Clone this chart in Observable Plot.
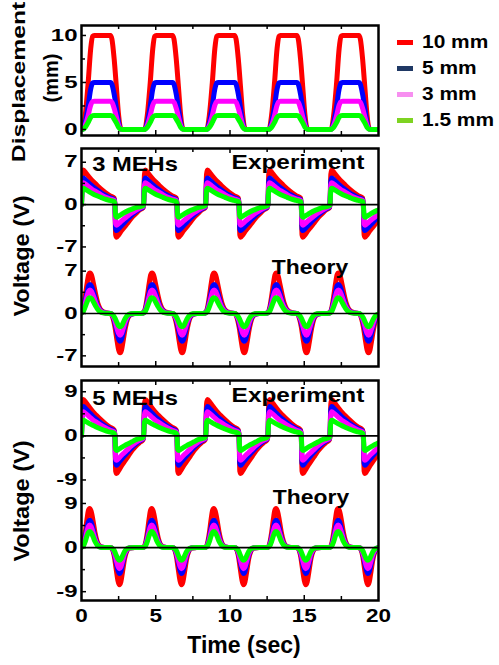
<!DOCTYPE html>
<html><head><meta charset="utf-8">
<script src="https://cdn.jsdelivr.net/npm/d3@7"></script>
<script src="https://cdn.jsdelivr.net/npm/@observablehq/plot@0.6"></script>
<style>
body{margin:0;background:#fff;}
#wrap{position:relative;width:499px;height:665px;overflow:hidden;font-family:"Liberation Sans",Arial,Helvetica,sans-serif;font-weight:bold;color:#000;}
.lab{position:absolute;white-space:nowrap;line-height:1;}
.pl{position:absolute;left:0;}
.sw{position:absolute;width:16px;height:5px;}
</style></head><body><div id="wrap"></div>
<script>
// ---------- data ----------
const seriesNames = ["10 mm", "5 mm", "3 mm", "1.5 mm"];
const lineColors = ["#ff0000", "#0000ff", "#ff00ff", "#00ff00"];
const legendColors = ["#ff0000", "#1f3864", "#f78ff0", "#7ed321"];
const cycleStart = [0, 4.18, 8.36, 12.55, 16.73];          // sec
const xMajor = [5, 10, 15];
const xMinor = [2.5, 7.5, 12.5, 17.5];
const xLabels = [0, 5, 10, 15, 20];

// displacement (mm), one cycle
const dispTau = [0, 0.1, 0.25, 0.45, 0.62, 0.75, 0.85, 1.95, 2.05, 2.2, 2.35, 2.5, 2.62, 2.75, 4.1];
const disp10 = [0, 0.1, 1.5, 5.0, 8.6, 9.9, 10, 10, 9.6, 7.5, 4.5, 1.5, 0.2, 0, 0];
const disp5  = [0, 0.05, 0.75, 2.5, 4.3, 4.95, 5, 5, 4.8, 3.75, 2.25, 0.75, 0.1, 0, 0];
const disp3  = [0, 0.03, 0.45, 1.5, 2.6, 2.97, 3, 3, 2.9, 2.25, 1.35, 0.45, 0.06, 0, 0];
const disp15 = [0, 0.02, 0.22, 0.75, 1.3, 1.48, 1.5, 1.5, 1.45, 1.1, 0.7, 0.22, 0.03, 0, 0];

// experiment voltage (V), one cycle
const expTau = [0, 0.06, 0.12, 0.3, 0.5, 0.75, 1.0, 1.3, 1.6, 1.9, 2.2, 2.25, 2.3, 2.36, 2.5, 2.7, 2.9, 3.15, 3.4, 3.65, 3.9, 4.15];
const exp3_10 = [0, 5.0, 5.7, 5.2, 4.6, 3.9, 3.3, 2.6, 2.0, 1.5, 1.1, 0, -5.0, -5.4, -5.0, -4.3, -3.7, -2.9, -2.1, -1.5, -0.9, -0.5];
const exp3_5  = [0, 3.9, 4.4, 4.0, 3.55, 3.0, 2.55, 2.0, 1.55, 1.15, 0.85, 0, -4.0, -4.3, -4.0, -3.45, -2.95, -2.3, -1.7, -1.2, -0.75, -0.4];
const exp3_3  = [0, 3.2, 3.6, 3.3, 2.9, 2.45, 2.1, 1.65, 1.25, 0.95, 0.7, 0, -3.2, -3.4, -3.15, -2.7, -2.3, -1.8, -1.35, -0.95, -0.6, -0.3];
const exp3_15 = [0, 2.4, 2.7, 2.45, 2.15, 1.8, 1.5, 1.2, 0.9, 0.7, 0.5, 0, -1.9, -2.1, -1.9, -1.6, -1.3, -1.0, -0.75, -0.5, -0.35, -0.2];
const exp5_10 = [0, 6.5, 7.4, 6.8, 6.0, 5.0, 4.2, 3.3, 2.5, 1.8, 1.2, 0, -7.2, -7.7, -7.1, -6.1, -5.2, -4.1, -3.0, -2.1, -1.4, -0.8];
const exp5_5  = [0, 5.3, 6.0, 5.5, 4.85, 4.05, 3.4, 2.65, 2.0, 1.45, 1.0, 0, -5.6, -6.0, -5.5, -4.75, -4.05, -3.2, -2.35, -1.65, -1.1, -0.6];
const exp5_3  = [0, 4.3, 4.9, 4.5, 4.0, 3.3, 2.8, 2.2, 1.65, 1.2, 0.8, 0, -4.7, -5.0, -4.6, -3.95, -3.4, -2.65, -1.95, -1.35, -0.9, -0.5];
const exp5_15 = [0, 2.8, 3.2, 2.9, 2.55, 2.15, 1.8, 1.4, 1.05, 0.8, 0.55, 0, -2.8, -3.0, -2.75, -2.35, -2.0, -1.6, -1.2, -0.8, -0.55, -0.3];

// theory voltage (V), one cycle
const th3Tau = [0, 0.12, 0.25, 0.38, 0.48, 0.57, 0.68, 0.8, 0.95, 1.1, 1.25, 1.45, 1.7, 1.95, 2.1, 2.25, 2.4, 2.5, 2.6, 2.7, 2.8, 2.95, 3.1, 3.3, 3.6, 4.0];
const th3_10 = [0.2, 0.9, 2.8, 5.0, 6.4, 6.7, 6.3, 5.0, 3.2, 1.7, 0.8, 0.3, 0.1, 0, -0.6, -2.2, -4.6, -6.0, -6.5, -6.0, -4.6, -2.4, -0.9, -0.2, 0, 0];
const th3_5  = [0.15, 0.65, 2.0, 3.6, 4.6, 4.8, 4.5, 3.6, 2.3, 1.2, 0.6, 0.2, 0.05, 0, -0.4, -1.55, -3.25, -4.25, -4.6, -4.25, -3.25, -1.7, -0.65, -0.15, 0, 0];
const th3_3  = [0.1, 0.5, 1.6, 2.9, 3.7, 3.9, 3.65, 2.9, 1.85, 1.0, 0.45, 0.15, 0.05, 0, -0.35, -1.2, -2.55, -3.3, -3.6, -3.3, -2.55, -1.35, -0.5, -0.1, 0, 0];
const th3_15 = [0.1, 0.35, 1.1, 1.95, 2.5, 2.6, 2.45, 1.95, 1.25, 0.65, 0.3, 0.1, 0.03, 0, -0.2, -0.75, -1.55, -2.05, -2.2, -2.05, -1.55, -0.8, -0.3, -0.05, 0, 0];
const th5Tau = [0, 0.12, 0.25, 0.37, 0.47, 0.55, 0.65, 0.77, 0.9, 1.05, 1.2, 1.4, 1.7, 1.95, 2.1, 2.22, 2.33, 2.45, 2.55, 2.65, 2.77, 2.9, 3.05, 3.25, 3.6, 4.0];
const th5_10 = [0.1, 0.8, 3.0, 5.8, 7.6, 8.0, 7.4, 5.6, 3.2, 1.3, 0.4, 0.1, 0, 0, -0.5, -2.0, -4.3, -6.7, -7.6, -7.0, -4.8, -2.3, -0.7, -0.1, 0, 0];
const th5_5  = [0.07, 0.55, 2.1, 4.05, 5.3, 5.6, 5.2, 3.9, 2.25, 0.9, 0.3, 0.05, 0, 0, -0.35, -1.4, -3.0, -4.65, -5.3, -4.9, -3.35, -1.6, -0.5, -0.05, 0, 0];
const th5_3  = [0.05, 0.45, 1.7, 3.35, 4.35, 4.6, 4.25, 3.2, 1.85, 0.75, 0.25, 0.05, 0, 0, -0.3, -1.15, -2.45, -3.8, -4.3, -3.95, -2.7, -1.3, -0.4, -0.05, 0, 0];
const th5_15 = [0.05, 0.3, 1.2, 2.4, 3.1, 3.3, 3.05, 2.3, 1.3, 0.55, 0.15, 0.03, 0, 0, -0.2, -0.7, -1.5, -2.3, -2.6, -2.4, -1.65, -0.8, -0.25, -0.03, 0, 0];

const dispTicks = [0, 5, 10], dispMinor = [2.5, 7.5];
const volt3Ticks = [-7, 0, 7], volt3Minor = [-3.5, 3.5];
const volt5Ticks = [-9, 0, 9], volt5Minor = [-4.5, 4.5];

// ---------- layout ----------
const W = 499, ML = 81, MR = 121;
const FONT = '"Liberation Sans", Arial, Helvetica, sans-serif';
const wrap = document.getElementById("wrap");

function rows(tau, vals, offset) {
  return cycleStart.flatMap(c => tau.map((d, i) => ({t: c + d, v: vals[i] + offset})));
}
function stretchTickLabels(svg) {
  svg.querySelectorAll("g").forEach(g => {
    const texts = g.querySelectorAll(":scope > text");
    if (!texts.length) return;
    const sx = g.getAttribute("text-anchor") === "end" ? 1.5 : 1.25;
    texts.forEach(t => {
      const tr = t.getAttribute("transform");
      if (tr) {
        t.setAttribute("transform", tr + ` scale(${sx},1)`);
      } else {
        const x = +(t.getAttribute("x") || 0), y = t.getAttribute("y");
        const yNum = y && !/em$/.test(y) ? +y : 0;
        t.removeAttribute("x");
        if (y && !/em$/.test(y)) t.removeAttribute("y");
        t.setAttribute("transform", `translate(${x},${yNum}) scale(${sx},1)`);
      }
    });
  });
}
function makePanel(o) {
  const fh = o.height - o.mt - o.mb, fw = W - ML - MR;
  const marks = [];
  for (const L of o.layers) {
    L.series.forEach((vals, i) => {
      marks.push(Plot.line(rows(L.tau, vals, L.offset), {
        x: "t", y: "v", stroke: lineColors[i], strokeWidth: 5,
        curve: "monotone-x", strokeLinejoin: "round", strokeLinecap: "round", clip: true
      }));
    });
  }
  if (o.zeros) marks.push(Plot.ruleY(o.zeros, {y: d => d, stroke: "black", strokeWidth: 1.6}));
  const majors = o.tickSets.flatMap(s => s.major.map(v => ({y: v + s.offset, s: String(v)})));
  const minors = o.tickSets.flatMap(s => s.minor.map(v => v + s.offset));
  marks.push(Plot.tickY(majors, {y: "y", stroke: "black", strokeWidth: 1.5, insetRight: fw - 5}));
  marks.push(Plot.tickY(minors, {y: d => d, stroke: "black", strokeWidth: 1.5, insetRight: fw - 4}));
  marks.push(Plot.tickX(xMajor, {x: d => d, stroke: "black", strokeWidth: 1.5, insetTop: fh - 5}));
  marks.push(Plot.tickX(xMinor, {x: d => d, stroke: "black", strokeWidth: 1.5, insetTop: fh - 4}));
  marks.push(Plot.tickX(xMajor, {x: d => d, stroke: "black", strokeWidth: 1.5, insetBottom: fh - 5}));
  marks.push(Plot.tickX(xMinor, {x: d => d, stroke: "black", strokeWidth: 1.5, insetBottom: fh - 4}));
  marks.push(Plot.text(majors, {y: "y", text: "s", frameAnchor: "left", lineAnchor: "middle", textAnchor: "end", dx: -4,
    fontSize: 16, fontWeight: "bold", fontFamily: FONT, fill: "black"}));
  if (o.xAxis) {
    marks.push(Plot.text(xLabels, {x: d => d, text: d => String(d), frameAnchor: "bottom", lineAnchor: "middle", dy: 16,
      fontSize: 18, fontWeight: "bold", fontFamily: FONT, fill: "black"}));
  }
  marks.push(Plot.frame({stroke: "black", strokeWidth: 2.5}));
  const svg = Plot.plot({
    width: W, height: o.height, marginLeft: ML, marginRight: MR, marginTop: o.mt, marginBottom: o.mb,
    x: {domain: [0, 20], axis: null},
    y: {domain: o.ydom, axis: null},
    style: {fontFamily: FONT, background: "transparent", overflow: "visible"},
    marks
  });
  stretchTickLabels(svg);
  svg.classList.add("pl");
  svg.style.top = o.top + "px";
  wrap.appendChild(svg);
}

const OFF3 = 18, OFF5 = 22.8;

makePanel({top: 0, height: 140, mt: 25, mb: 5, ydom: [-0.64, 11.06],
  layers: [{tau: dispTau, offset: 0, series: [disp10, disp5, disp3, disp15]}],
  tickSets: [{major: dispTicks, minor: dispMinor, offset: 0}]});

makePanel({top: 140, height: 230, mt: 8, mb: 4, ydom: [-8.76, 27.27], zeros: [0, OFF3],
  layers: [
    {tau: expTau, offset: OFF3, series: [exp3_10, exp3_5, exp3_3, exp3_15]},
    {tau: th3Tau, offset: 0, series: [th3_10, th3_5, th3_3, th3_15]}],
  tickSets: [{major: volt3Ticks, minor: volt3Minor, offset: 0}, {major: volt3Ticks, minor: volt3Minor, offset: OFF3}]});

makePanel({top: 372, height: 293, mt: 8, mb: 65, ydom: [-10.8, 34.1], zeros: [0, OFF5], xAxis: true,
  layers: [
    {tau: expTau, offset: OFF5, series: [exp5_10, exp5_5, exp5_3, exp5_15]},
    {tau: th5Tau, offset: 0, series: [th5_10, th5_5, th5_3, th5_15]}],
  tickSets: [{major: volt5Ticks, minor: volt5Minor, offset: 0}, {major: volt5Ticks, minor: volt5Minor, offset: OFF5}]});

// ---------- text labels ----------
function label(text, cx, cy, size, sx, rot) {
  const d = document.createElement("div");
  d.className = "lab";
  d.textContent = text;
  d.style.left = cx + "px";
  d.style.top = cy + "px";
  d.style.fontSize = size + "px";
  d.style.transform = `translate(-50%,-50%) rotate(${rot || 0}deg) scaleX(${sx})`;
  wrap.appendChild(d);
}
label("Displacement", 19, 82, 18, 1.37, -90);
label("(mm)", 51, 78, 20, 1.0, -90);
label("Voltage (V)", 22, 256, 22, 1.07, -90);
label("Voltage (V)", 22, 501, 22, 1.07, -90);
label("3 MEHs", 135, 163, 21, 1.13, 0);
label("Experiment", 297.5, 163, 19.5, 1.25, 0);
label("Theory", 310, 266, 21, 1.09, 0);
label("5 MEHs", 135, 397, 21, 1.13, 0);
label("Experiment", 298, 396, 19.5, 1.25, 0);
label("Theory", 310.5, 496, 21, 1.09, 0);
label("Time (sec)", 244, 645, 23, 1.0, 0);

// legend
const legendY = [42, 68, 94, 120];
seriesNames.forEach((name, i) => {
  const s = document.createElement("div");
  s.className = "sw";
  s.style.left = "397px";
  s.style.top = (legendY[i] - 2.5) + "px";
  s.style.background = legendColors[i];
  wrap.appendChild(s);
  const t = document.createElement("div");
  t.className = "lab";
  t.textContent = name;
  t.style.left = "422px";
  t.style.top = legendY[i] + "px";
  t.style.fontSize = "18.5px";
  t.style.transformOrigin = "left center";
  t.style.transform = "translate(0,-50%) scaleX(1.13)";
  wrap.appendChild(t);
});
</script></body></html>
